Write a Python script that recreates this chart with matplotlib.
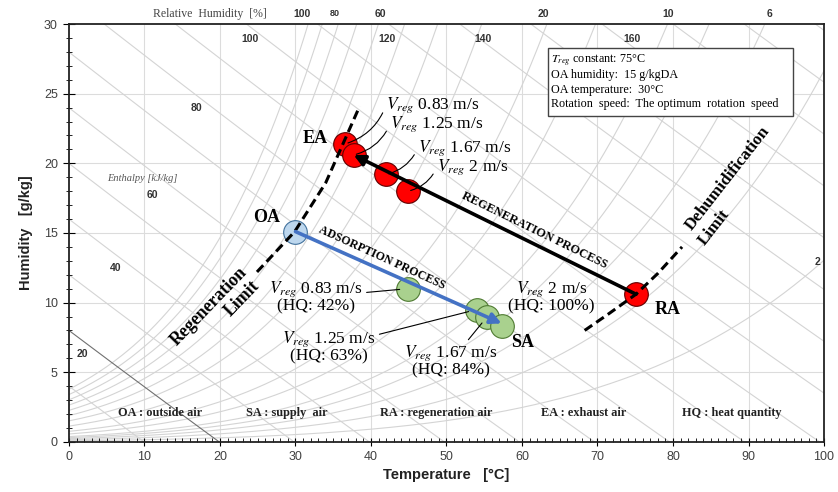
import numpy as np
import matplotlib
matplotlib.use('Agg')
import matplotlib.pyplot as plt
from matplotlib.patches import Rectangle
from matplotlib.ticker import MultipleLocator

plt.rcParams['mathtext.fontset'] = 'stix'
SERIF = ['Liberation Serif', 'DejaVu Serif']
SANS = ['Liberation Sans', 'DejaVu Sans']

# measured states (temperature degC, humidity g/kg)
ea_T = [36.6, 37.7, 42.0, 44.9]
ea_w = [21.4, 20.6, 19.2, 18.0]
sa_T = [44.9, 54.0, 55.4, 57.3]
sa_w = [11.0, 9.5, 9.0, 8.3]
oa_T, oa_w = 30.0, 15.1
ra_T, ra_w = 75.1, 10.6
v_reg = ['0.83', '1.25', '1.67', '2']
hq = [42, 63, 84, 100]

# limit lines
regen_T = [24.9, 29.9, 34.0, 38.5]
regen_w = [12.2, 15.1, 18.6, 24.1]
dehum_T = [68.3, 71.5, 75.1, 78.0, 81.2]
dehum_w = [8.0, 9.2, 10.6, 12.1, 14.0]

# background psychrometric chart
rh_levels = [100, 90, 80, 70, 60, 50, 40, 30, 20, 15, 10, 8, 6, 4, 2]
h_levels = list(range(10, 190, 10))
rh_labels = ['100', '80', '60', '20', '10', '6']
rh_label_T = [30.8, 35.2, 41.2, 62.8, 79.4, 92.8]
h_labels = ['20', '40', '60', '80', '100', '120', '140', '160']
h_label_pos = [(1.8, 6.3), (6.2, 12.5), (11.0, 17.7), (16.9, 24.0),
               (24.0, 28.9), (42.1, 28.9), (54.9, 28.9), (74.6, 28.9)]

conditions = [r'$T_{reg}$ constant: 75°C', 'OA humidity:  15 g/kgDA',
              'OA temperature:  30°C',
              'Rotation  speed:  The optimum  rotation  speed']

P = 101.325


def psat(t):
    return 0.61094 * np.exp(17.625 * t / (t + 243.04))


fig = plt.figure(figsize=(8.38, 4.92), dpi=100)
ax = fig.add_axes([0.0823, 0.102, 0.901, 0.849])
ax.set_xlim(0, 100)
ax.set_ylim(0, 30)

T = np.linspace(0, 100, 400)
for rh in rh_levels:
    pv = rh / 100 * psat(T)
    w = np.where(pv < P * 0.95, 622 * pv / (P - pv), np.nan)
    ax.plot(T, w, color='#d4d4d4', lw=0.8, zorder=1)
for h in h_levels:
    w = 1000 * (h - 1.006 * T) / (2501 + 1.86 * T)
    w = np.where(w >= 0, w, np.nan)
    c = '#707070' if h == 20 else '#d4d4d4'
    ax.plot(T, w, color=c, lw=0.8, zorder=1)
for x in range(10, 100, 10):
    ax.axvline(x, color='#dcdcdc', lw=0.8, zorder=0.5)
for y in range(5, 30, 5):
    ax.axhline(y, color='#dcdcdc', lw=0.8, zorder=0.5)

# labels of chart lines
for lab, t in zip(rh_labels, rh_label_T):
    fs = 6.5 if lab == '80' else 7.5
    ax.text(t, 30.75, lab, ha='center', va='center', fontsize=fs,
            fontweight='bold', family=SANS, color='#333333', clip_on=False)
ax.text(99.1, 12.9, '2', ha='center', va='center', fontsize=7.5,
        fontweight='bold', family=SANS, color='#333333')
ax.text(18.7, 30.75, 'Relative  Humidity  [%]', ha='center', va='center',
        fontsize=8.5, family=SERIF, color='#444444', clip_on=False)
for lab, (x, y) in zip(h_labels, h_label_pos):
    ax.text(x, y, lab, ha='center', va='center', fontsize=7.5,
            fontweight='bold', family=SANS, color='#333333')
ax.text(9.7, 18.9, 'Enthalpy [kJ/kg]', ha='center', va='center', fontsize=7.5,
        style='italic', family=SERIF, color='#555555')

# state points
ax.scatter(ea_T + [ra_T], ea_w + [ra_w], s=290, color='#ff0000',
           edgecolor='#600000', lw=0.8, zorder=3)
ax.scatter(sa_T, sa_w, s=290, color='#a9d18e', edgecolor='#4f7a32',
           lw=0.8, zorder=3)
ax.scatter([oa_T], [oa_w], s=290, color='#bdd7ee', edgecolor='#41719c',
           lw=0.8, zorder=3)

# limit lines
ax.plot(regen_T, regen_w, color='black', lw=2.2, ls=(0, (3, 1.6)), zorder=4)
ax.plot(dehum_T, dehum_w, color='black', lw=2.2, ls=(0, (3, 1.6)), zorder=4)

# process arrows
ax.annotate('', xy=(sa_T[-1], sa_w[-1] + 0.2), xytext=(oa_T, oa_w),
            arrowprops=dict(arrowstyle='-|>', color='#4472c4', lw=2.6,
                            mutation_scale=16, shrinkA=0, shrinkB=0), zorder=5)
ax.annotate('', xy=(ea_T[1], ea_w[1]), xytext=(ra_T, ra_w),
            arrowprops=dict(arrowstyle='-|>', color='black', lw=2.6,
                            mutation_scale=16, shrinkA=0, shrinkB=0), zorder=5)

# point names
for name, x, y in [('EA', 32.6, 21.8), ('OA', 26.2, 16.1), ('SA', 60.1, 7.1),
                   ('RA', 79.3, 9.5)]:
    ax.text(x, y, name, ha='center', va='center', fontsize=13,
            fontweight='bold', family=SERIF)

ax.text(61.6, 15.2, 'REGENERATION PROCESS', ha='center', va='center',
        rotation=-26, fontsize=8.8, fontweight='bold', family=SERIF)
ax.text(41.5, 13.2, 'ADSORPTION PROCESS', ha='center', va='center',
        rotation=-24.5, fontsize=8.6, fontweight='bold', family=SERIF)
ax.text(18.5, 9.75, 'Regeneration', ha='center', va='center', rotation=46,
        fontsize=12.8, fontweight='bold', family=SERIF)
ax.text(23.0, 10.3, 'Limit', ha='center', va='center', rotation=46,
        fontsize=12.8, fontweight='bold', family=SERIF)
ax.text(87.2, 18.9, 'Dehumidification', ha='center', va='center', rotation=52,
        fontsize=12.3, fontweight='bold', family=SERIF)
ax.text(85.4, 15.4, 'Limit', ha='center', va='center', rotation=52,
        fontsize=12.3, fontweight='bold', family=SERIF)

# EA annotations
ea_text_pos = [(42.0, 24.2), (42.5, 22.8), (46.2, 21.1), (48.7, 19.7)]
for v, x, y, (tx, ty) in zip(v_reg, ea_T, ea_w, ea_text_pos):
    ax.annotate(r'$V_{reg}$ ' + v + ' m/s', xy=(x, y), xytext=(tx, ty),
                ha='left', va='center', fontsize=12.5, family=SERIF,
                arrowprops=dict(arrowstyle='-', color='black', lw=0.8,
                                relpos=(0, 0.5), shrinkA=1, shrinkB=2,
                                connectionstyle='arc3,rad=-0.25'), zorder=6)

# SA annotations
sa_text_pos = [(32.7, 10.4), (34.4, 6.8), (50.6, 5.8), (63.9, 10.4)]
sa_targets = [(sa_T[0], sa_w[0]), (sa_T[1], sa_w[1]), (sa_T[2], sa_w[2]), None]
for v, q, (tx, ty), tgt in zip(v_reg, hq, sa_text_pos, sa_targets):
    s = r'$V_{reg}$ ' + v + ' m/s\n(HQ: %d%%)' % q
    if tgt is None:
        ax.text(tx, ty, s, ha='center', va='center', fontsize=12.5,
                family=SERIF, linespacing=0.95, zorder=6)
    else:
        ax.annotate(s, xy=tgt, xytext=(tx, ty), ha='center', va='center',
                    fontsize=12.5, family=SERIF, linespacing=0.95,
                    arrowprops=dict(arrowstyle='-', color='black', lw=0.8,
                                    shrinkA=1, shrinkB=6), zorder=6)

# conditions box
ax.add_patch(Rectangle((63.4, 23.4), 32.5, 4.9, fc='white', ec='#444444',
                       lw=1, zorder=6))
for i, line in enumerate(conditions):
    ax.text(63.8, 27.32 - i * 1.01, line, ha='left', va='center',
            fontsize=8.7, family=SERIF, zorder=7)

# abbreviations
for s, x in [('OA : outside air', 12.0), ('SA : supply  air', 28.9),
             ('RA : regeneration air', 48.6), ('EA : exhaust air', 68.1),
             ('HQ : heat quantity', 87.8)]:
    ax.text(x, 2.05, s, ha='center', va='center', fontsize=8.8,
            fontweight='bold', family=SERIF, color='#222222')

# axes styling
ax.xaxis.set_major_locator(MultipleLocator(10))
ax.xaxis.set_minor_locator(MultipleLocator(1))
ax.yaxis.set_major_locator(MultipleLocator(5))
ax.yaxis.set_minor_locator(MultipleLocator(1))
ax.tick_params(axis='x', which='major', direction='inout', length=6,
               labelsize=9, labelcolor='#404040')
ax.tick_params(axis='x', which='minor', direction='in', length=3)
ax.tick_params(axis='y', which='major', direction='inout', length=9,
               labelsize=9, labelcolor='#404040')
ax.tick_params(axis='y', which='minor', direction='inout', length=5)
for lab in ax.get_xticklabels() + ax.get_yticklabels():
    lab.set_family(SANS)
for sp in ax.spines.values():
    sp.set_linewidth(1.3)
    sp.set_color('#222222')
ax.set_xlabel('Temperature   [°C]', fontsize=10.5, fontweight='bold',
              family=SANS, color='#222222')
ax.set_ylabel('Humidity   [g/kg]', fontsize=10.5, fontweight='bold',
              family=SANS, color='#222222', labelpad=8)

fig.savefig('out.png', dpi=100)
